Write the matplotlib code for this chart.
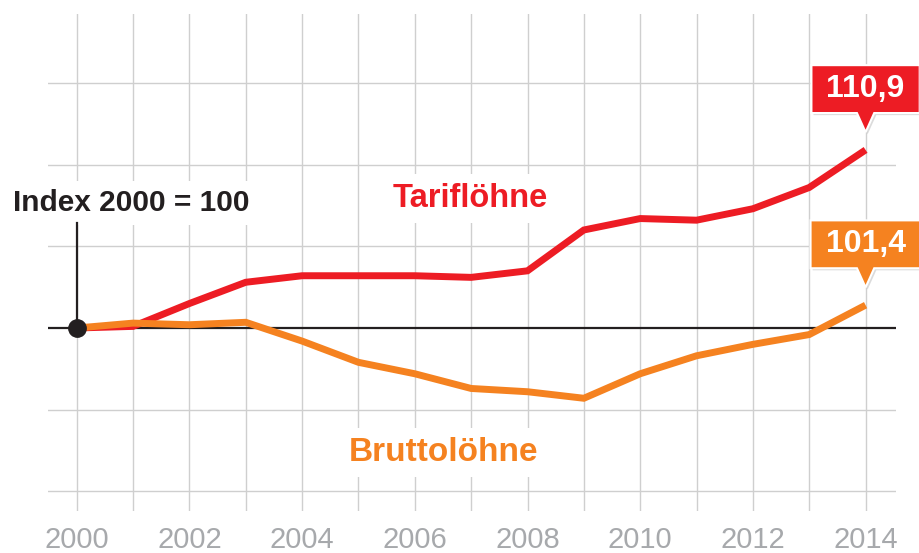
import numpy as np
import matplotlib
matplotlib.use('Agg')
import matplotlib.pyplot as plt
import matplotlib.patheffects as pe
from matplotlib.path import Path

plt.rcParams['font.family'] = ['Liberation Sans', 'DejaVu Sans']

years = np.arange(2000, 2015)
tarif = [100.0, 100.1, 101.5, 102.8, 103.2, 103.2, 103.2, 103.1, 103.5,
         106.0, 106.7, 106.6, 107.3, 108.6, 110.9]
brutto = [100.0, 100.3, 100.2, 100.35, 99.2, 97.9, 97.2, 96.3, 96.1,
          95.7, 97.2, 98.3, 99.0, 99.6, 101.4]
year_labels = [str(y) for y in range(2000, 2015, 2)]
grid_levels = [90, 95, 105, 110, 115]
base = 100

red = '#ed1c24'
orange = '#f58220'
black = '#231f20'
grey = '#cfcfcf'
tick_grey = '#a7a9ac'

W, H = 919, 553
fig = plt.figure(figsize=(W / 100, H / 100), dpi=100)
ax = fig.add_axes([48 / W, 1 - 511 / H, (896 - 48) / W, (511 - 14) / H])
ax.set_xlim(1999.49, 2014.54)
ax.set_ylim(88.8, 119.22)
for s in ax.spines.values():
    s.set_visible(False)

ax.set_xticks(years[::2])
ax.set_xticklabels(year_labels)
ax.set_xticks(years[1::2], minor=True)
ax.set_yticks(grid_levels)
ax.set_yticklabels([])
ax.tick_params(which='both', length=0)
ax.tick_params(axis='x', pad=11, labelsize=21, labelcolor=tick_grey)
ax.grid(True, which='both', color=grey, lw=1)
ax.set_axisbelow(True)

ax.axhline(base, color=black, lw=1.6, zorder=2)
ax.plot([years[0], years[0]], [base, 106.4], color=black, lw=1.6, zorder=2)

ax.plot(years, tarif, color=red, lw=5, solid_joinstyle='miter',
        solid_capstyle='butt', zorder=3)
ax.plot(years, brutto, color=orange, lw=5, solid_joinstyle='miter',
        solid_capstyle='butt', zorder=4)
ax.plot(years[0], base, 'o', color=black, ms=12.5, zorder=5)

lbl_box = dict(boxstyle='square,pad=0.27', fc='white', ec='none')
ax.text(2000.96, 107.18, 'Index 2000 = 100', ha='center', va='baseline',
        fontsize=21.5, fontweight='bold', color=black, bbox=lbl_box, zorder=1.5)
ax.text(2006.98, 107.39, 'Tariflöhne', ha='center', va='baseline',
        fontsize=23.5, fontweight='bold', color=red, bbox=lbl_box, zorder=1.5)
ax.text(2006.51, 91.86, 'Bruttolöhne', ha='center', va='baseline',
        fontsize=24, fontweight='bold', color=orange, bbox=lbl_box, zorder=1.5)


def callout(x0, y0, width, height, mutation_size):
    padx = 0.47 * mutation_size
    pady = 0.28 * mutation_size
    x0, x1 = x0 - padx, x0 + width + padx
    y0, y1 = y0 - pady, y0 + height + pady
    cx = (x0 + x1) / 2
    tw = 0.27 * mutation_size
    th = 0.6 * mutation_size
    verts = [(x0, y0), (cx - tw, y0), (cx, y0 - th), (cx + tw, y0),
             (x1, y0), (x1, y1), (x0, y1), (x0, y0)]
    return Path(verts, closed=True)


for series, col in [(tarif, red), (brutto, orange)]:
    t = ax.annotate(f'{series[-1]:.1f}'.replace('.', ','), (years[-1], series[-1]),
                    xytext=(0, 33), textcoords='offset points', ha='center',
                    va='bottom', fontsize=23, fontweight='bold', color='white',
                    bbox=dict(boxstyle=callout, fc=col, ec='white', lw=1.5),
                    zorder=6, annotation_clip=False)
    t.get_bbox_patch().set_path_effects(
        [pe.SimplePatchShadow(offset=(1.5, -1.5), shadow_rgbFace='#999999', alpha=0.35),
         pe.Normal()])

fig.savefig('out.png', dpi=100)
